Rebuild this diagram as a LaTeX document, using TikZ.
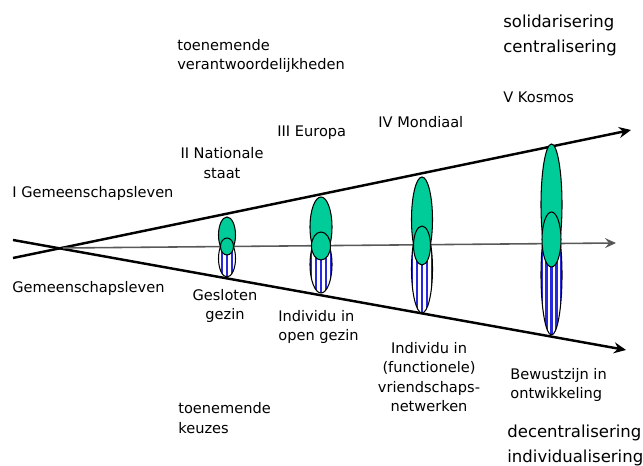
\documentclass[tikz,border=0pt]{standalone}
\usepackage{fontspec}
\setmainfont{DejaVu Sans}
\usetikzlibrary{shapes.geometric,arrows.meta}
\definecolor{cellgreen}{RGB}{0,204,153}
\definecolor{stripeblue}{RGB}{40,40,220}
\tikzset{
  lbl/.style={inner sep=0pt, font=\fontsize{8.3}{11}\selectfont},
  biglbl/.style={inner sep=0pt, font=\fontsize{9.4}{12}\selectfont},
  axis/.style={line width=1.4pt, -{Stealth[length=2.4mm,width=2.2mm,inset=0.8mm]}},
  midaxis/.style={line width=0.9pt, black!65, -{Stealth[length=2.2mm,width=2mm,inset=0.8mm,fill=black]}},
  cell/.style={ellipse, draw, line width=0.6pt, inner sep=0pt},
  greenell/.style={cell, fill=cellgreen},
  stripeell/.style={cell, fill=white,
    path picture={\foreach \k in {-4,...,4}
      \fill[stripeblue] ([xshift={\k*1mm-0.28mm}]path picture bounding box.south)
        rectangle ([xshift={\k*1mm+0.28mm}]path picture bounding box.north);}}
}
\begin{document}
\begin{tikzpicture}[x=0.2mm, y=-0.2mm]
  \useasboundingbox (0,0) rectangle (643,466);
  \coordinate (ul) at (13,258);
  \coordinate (ur) at (631,130);
  \coordinate (ll) at (13,240);
  \coordinate (lr) at (626,350);
  \coordinate (mx) at (63,248);
  \coordinate (mr) at (616,243);
  \draw[axis] (ul) -- (ur);
  \draw[axis] (ll) -- (lr);
  \draw[midaxis] (mx) -- (mr);

  \node[stripeell, minimum width=3.4mm, minimum height=7.4mm] (b1) at (227,258.5) {};
  \node[greenell, minimum width=3.4mm, minimum height=7.2mm] (g1) at (227,235) {};
  \node[greenell, minimum width=2.6mm, minimum height=3.4mm] (c1) at (227,246.5) {};

  \node[stripeell, minimum width=4.4mm, minimum height=11.4mm] (b2) at (321,264.5) {};
  \node[greenell, minimum width=4.4mm, minimum height=12mm] (g2) at (321,227) {};
  \node[greenell, minimum width=3.8mm, minimum height=5.6mm] (c2) at (321,246) {};

  \node[stripeell, minimum width=4.2mm, minimum height=17.6mm] (b3) at (422,269) {};
  \node[greenell, minimum width=4.2mm, minimum height=17mm] (g3) at (422,219.5) {};
  \node[greenell, minimum width=3.4mm, minimum height=7.8mm] (c3) at (422,245.5) {};

  \node[stripeell, minimum width=4.2mm, minimum height=24mm] (b4) at (551.5,275) {};
  \node[greenell, minimum width=4.2mm, minimum height=24.2mm] (g4) at (551.5,204.5) {};
  \node[greenell, minimum width=3.8mm, minimum height=11mm] (c4) at (551.5,239.5) {};

  \node[biglbl, anchor=west] (sol) at (503,23) {solidarisering};
  \node[biglbl, anchor=west] (cen) at (503,48) {centralisering};
  \node[lbl, anchor=west, align=left] (resp) at (177,56) {toenemende\\verantwoordelijkheden};
  \node[lbl, anchor=west] (kos) at (503,97) {V Kosmos};
  \node[lbl, anchor=west] (mon) at (378,122) {IV Mondiaal};
  \node[lbl, anchor=west] (eur) at (277,133) {III Europa};
  \node[lbl, align=center] (nat) at (222,163) {II Nationale\\staat};
  \node[lbl, anchor=west] (gem1) at (12,193) {I Gemeenschapsleven};
  \node[lbl, anchor=west] (gem2) at (12,288) {Gemeenschapsleven};
  \node[lbl, align=center] (ges) at (225,306) {Gesloten\\gezin};
  \node[lbl, anchor=west, align=left] (open) at (278,327) {Individu in\\open gezin};
  \node[lbl, align=center] (netw) at (429,377) {Individu in\\(functionele)\\vriendschaps-\\netwerken};
  \node[lbl, anchor=west, align=left] (bew) at (510,385) {Bewustzijn in\\ontwikkeling};
  \node[lbl, anchor=west, align=left] (keuz) at (178,418) {toenemende\\keuzes};
  \node[biglbl, anchor=west] (dec) at (507,433) {decentralisering};
  \node[biglbl, anchor=west] (ind) at (507,458) {individualisering};
\end{tikzpicture}
\end{document}
